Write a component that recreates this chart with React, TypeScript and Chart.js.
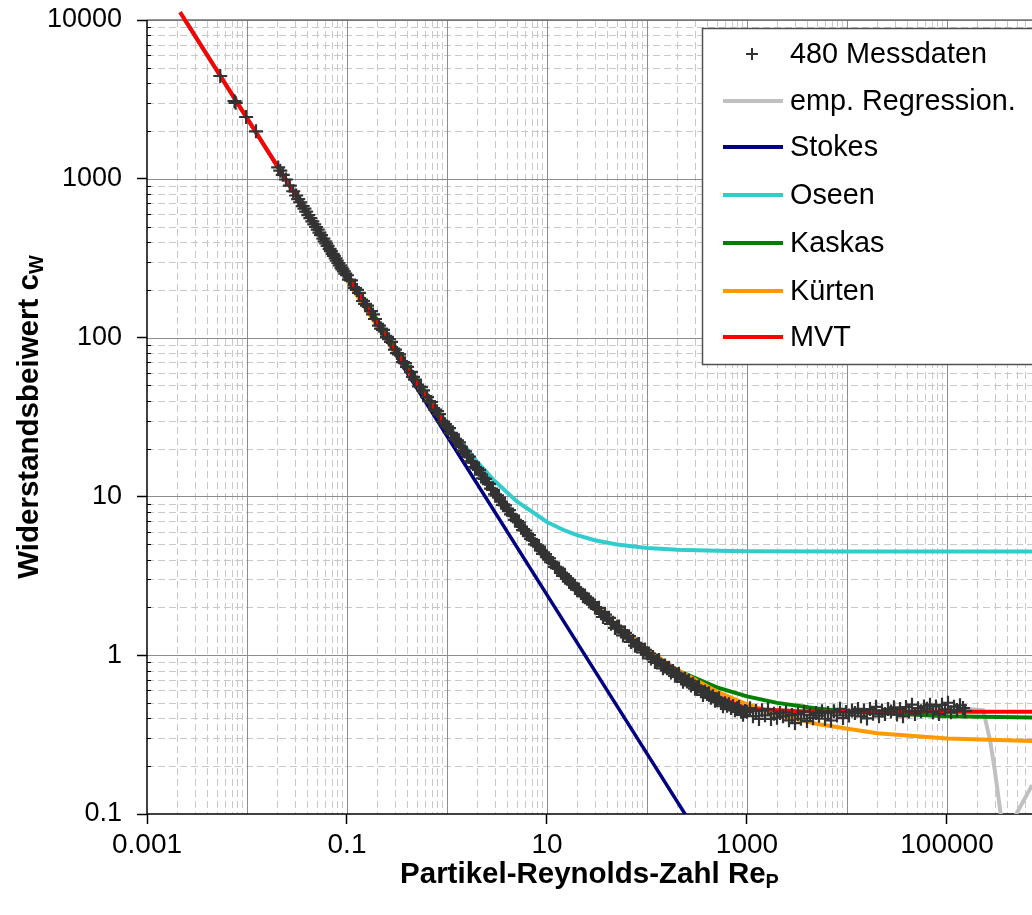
import React, { useEffect, useRef } from 'react';
import { Chart, registerables } from 'chart.js';

Chart.register(...registerables);

// ---------- data ----------
const MESS_RE = [
  0.0054, 0.0075, 0.0077, 0.0098, 0.0123, 0.0205, 0.0215, 0.0228, 0.0245, 0.0268,
  0.029, 0.031, 0.0325, 0.034, 0.036, 0.0375, 0.039, 0.041, 0.043, 0.045,
  0.047, 0.049, 0.051, 0.053, 0.055, 0.058, 0.06, 0.062, 0.064, 0.067,
  0.069, 0.072, 0.074, 0.077, 0.079, 0.082, 0.085, 0.088, 0.09, 0.093, 0.096,
  0.1, 0.1047, 0.1096, 0.1202, 0.1259, 0.1318, 0.1445, 0.1514, 0.1585, 0.1738,
  0.182, 0.1905, 0.2089, 0.2188, 0.2291, 0.2512, 0.263, 0.2754, 0.302, 0.3162,
  0.3311, 0.3631, 0.3802, 0.3981, 0.4365, 0.4571, 0.4786, 0.5248, 0.5495, 0.5754,
  0.631, 0.6607, 0.6918, 0.7586, 0.7943, 0.8318, 0.912, 0.955,
  1.0, 1.047, 1.096, 1.148, 1.202, 1.259, 1.318, 1.38, 1.445, 1.514,
  1.585, 1.66, 1.738, 1.82, 1.905, 1.995, 2.089, 2.188, 2.291, 2.399,
  2.512, 2.63, 2.754, 2.884, 3.02, 3.162, 3.311, 3.467, 3.631, 3.802,
  3.981, 4.169, 4.365, 4.571, 4.786, 5.012, 5.248, 5.495, 5.754, 6.026,
  6.31, 6.607, 6.918, 7.244, 7.586, 7.943, 8.318, 8.71, 9.12, 9.55,
  10.0, 10.47, 10.96, 11.48, 12.02, 12.59, 13.18, 13.8, 14.45, 15.14,
  15.85, 16.6, 17.38, 18.2, 19.05, 19.95, 20.89, 21.88, 22.91, 23.99,
  25.12, 26.3, 27.54, 28.84, 30.2, 31.62, 33.11, 34.67, 36.31, 38.02,
  39.81, 41.69, 43.65, 45.71, 47.86, 50.12, 52.48, 54.95, 57.54, 60.26,
  63.1, 66.07, 69.18, 72.44, 75.86, 79.43, 83.18, 87.1, 91.2, 95.5,
  100.0, 104.7, 109.6, 114.8, 120.2, 125.9, 131.8, 138.0, 144.5, 151.4,
  158.5, 166.0, 173.8, 182.0, 190.5, 199.5, 208.9, 218.8, 229.1, 239.9,
  251.2, 263.0, 275.4, 288.4, 302.0, 316.2, 331.1, 346.7, 363.1, 380.2,
  398.1, 416.9, 436.5, 457.1, 478.6, 501.2, 524.8, 549.5, 575.4, 602.6,
  631.0, 660.7, 691.8, 724.4, 758.6, 794.3, 831.8, 871.0, 912.0, 955.0,
  1000, 1072, 1148, 1230, 1318, 1413, 1514, 1622, 1738, 1862,
  1995, 2138, 2291, 2455, 2630, 2818, 3020, 3236, 3467, 3715,
  3981, 4266, 4571, 4898, 5248, 5623, 6026, 6457, 6918, 7413,
  7943, 8511, 9120, 9772, 10470, 11220, 12020, 12880, 13800, 14790,
  15850, 16980, 18200, 19500, 20890, 22390, 23990, 25700, 27540, 29510,
  31620, 33880, 36310, 38900, 41690, 44670, 47860, 51290, 54950, 58880,
  63100, 67610, 72440, 77620, 83180, 89130, 95500, 102300, 109600, 117500,
  125900, 134900, 144500, 151400,
];
const MESS_CW = [
  4440, 3080, 3010, 2450, 1990, 1180, 1125, 1060, 990, 905,
  835, 785, 745, 712, 672, 648, 622, 590, 566, 540,
  517, 497, 478, 458, 442, 420, 404, 392, 378, 362,
  350, 337, 327, 315, 305, 295, 285, 276, 269, 261, 253,
  247, 232, 229, 205, 199.5, 191, 170, 163, 159, 147,
  140, 131, 119, 114, 112, 101, 97.7, 94.0, 84.0, 79.9,
  78.4, 70.0, 69.0, 65.4, 60.9, 56.5, 54.4, 49.2, 48.8, 46.5,
  42.2, 39.8, 39.3, 35.2, 34.4, 33.0, 29.6, 28.5,
  27.6, 26.9, 25.1, 24.6, 23.0, 22.5, 21.9, 20.5, 19.4, 19.2,
  18.3, 17.8, 16.6, 16.3, 15.3, 15.0, 14.7, 13.7, 13.0, 12.9,
  12.25, 12.0, 11.2, 11.0, 10.3, 10.15, 9.83, 9.27, 8.84, 8.78,
  8.37, 8.19, 7.70, 7.56, 7.11, 6.99, 6.85, 6.46, 6.13, 6.10,
  5.83, 5.71, 5.39, 5.30, 4.99, 4.92, 4.83, 4.57, 4.35, 4.33,
  4.15, 4.08, 3.85, 3.81, 3.60, 3.56, 3.50, 3.30, 3.16, 3.15,
  3.03, 2.98, 2.82, 2.80, 2.65, 2.62, 2.59, 2.46, 2.35, 2.35,
  2.27, 2.24, 2.13, 2.11, 2.00, 1.98, 1.99, 1.84, 1.74, 1.80,
  1.72, 1.72, 1.575, 1.60, 1.485, 1.51, 1.516, 1.409, 1.333, 1.383,
  1.323, 1.318, 1.213, 1.235, 1.148, 1.169, 1.178, 1.097, 1.041, 1.082,
  1.027, 1.025, 0.955, 0.973, 0.906, 0.923, 0.932, 0.870, 0.827, 0.860,
  0.827, 0.835, 0.779, 0.795, 0.742, 0.757, 0.765, 0.714, 0.680, 0.710,
  0.683, 0.691, 0.645, 0.659, 0.615, 0.629, 0.636, 0.592, 0.562, 0.589,
  0.570, 0.577, 0.540, 0.552, 0.516, 0.528, 0.535, 0.500, 0.477, 0.498,
  0.480, 0.491, 0.465, 0.478, 0.450, 0.463, 0.471, 0.441, 0.421, 0.445,
  0.440, 0.463, 0.413, 0.446, 0.397, 0.450, 0.418, 0.458, 0.397, 0.428,
  0.404, 0.432, 0.413, 0.435, 0.389, 0.420, 0.374, 0.425, 0.398, 0.441,
  0.385, 0.420, 0.401, 0.432, 0.416, 0.443, 0.398, 0.433, 0.388, 0.444,
  0.417, 0.460, 0.402, 0.439, 0.417, 0.448, 0.432, 0.459, 0.412, 0.448,
  0.400, 0.458, 0.428, 0.473, 0.412, 0.448, 0.427, 0.458, 0.442, 0.470,
  0.423, 0.459, 0.412, 0.472, 0.442, 0.488, 0.427, 0.464, 0.443, 0.476,
  0.460, 0.488, 0.438, 0.476, 0.426, 0.487, 0.456, 0.502, 0.437, 0.474,
  0.451, 0.484, 0.465, 0.446,
];

const REG_RE = [0.002, 0.01, 0.1, 1, 10, 100, 1000, 3000, 10000, 30000, 100000, 160000, 230000, 270000, 300000, 340000, 370000, 710000, 1000000];
const REG_CW = [12000, 2420, 246, 27, 4.1, 1.0, 0.44, 0.42, 0.43, 0.44, 0.455, 0.46, 0.45, 0.29, 0.19, 0.106, 0.072, 0.152, 0.23];

const STOKES_RE = [0.002, 0.01, 0.1, 1, 10, 30, 100, 300];
const STOKES_CW = [12000, 2400, 240, 24, 2.4, 0.8, 0.24, 0.08];

const OSEEN_RE = [0.002, 0.01, 0.1, 1, 2, 3, 5, 10, 15, 20, 30, 50, 100, 200, 500, 1000, 10000, 100000, 1000000];
const OSEEN_CW = [12004.5, 2404.5, 244.5, 28.5, 16.5, 12.5, 9.3, 6.9, 6.1, 5.7, 5.3, 4.98, 4.74, 4.62, 4.55, 4.52, 4.5, 4.5, 4.5];

const KASKAS_RE = [0.1, 0.2, 0.5, 1, 2, 5, 10, 20, 50, 100, 200, 500, 1000, 2000, 5000, 10000, 100000, 1000000];
const KASKAS_CW = [253.0, 129.3, 54.1, 28.4, 15.23, 6.99, 4.06, 2.49, 1.446, 1.04, 0.803, 0.627, 0.55, 0.501, 0.461, 0.442, 0.413, 0.404];

const KUERTEN_RE = [0.1, 0.2, 0.5, 1, 2, 5, 10, 20, 50, 100, 200, 500, 1000, 2000, 5000, 20000, 100000, 1000000];
const KUERTEN_CW = [229.3, 118.7, 50.8, 27.28, 15.02, 7.16, 4.28, 2.67, 1.549, 1.09, 0.809, 0.59, 0.491, 0.425, 0.369, 0.323, 0.299, 0.286];

const MVT_RE = [0.00214, 0.005, 0.01, 0.03, 0.1, 0.3, 1, 3, 10, 30, 100, 300, 1000, 3000, 10000, 100000, 1000000];
const MVT_CW = [11220, 4810, 2410, 806, 244, 82.5, 27.2, 10.2, 4.12, 1.97, 1.02, 0.63, 0.46, 0.445, 0.44, 0.44, 0.44];

const X_TICKS = [0.001, 0.1, 10, 1000, 100000];
const Y_TICKS = [0.1, 1, 10, 100, 1000, 10000];
const X_MIN = 0.001;
const X_MAX = 708000;
const Y_MIN = 0.1;
const Y_MAX = 10000;

const SERIES_NAMES = ['480 Messdaten', 'emp. Regression.', 'Stokes', 'Oseen', 'Kaskas', 'Kürten', 'MVT'];
const SERIES_COLORS = ['#333333', '#C0C0C0', '#000080', '#33CCCC', '#008000', '#FF9900', '#FF0000'];

const X_TITLE = 'Partikel-Reynolds-Zahl Re';
const X_TITLE_SUB = 'P';
const Y_TITLE = 'Widerstandsbeiwert c';
const Y_TITLE_SUB = 'W';

const FONT = "'Liberation Sans', Arial, sans-serif";

const pts = (xs: number[], ys: number[]) => xs.map((x, i) => ({ x, y: ys[i] }));

const gridPlugin = {
  id: 'excelGrid',
  beforeDatasetsDraw(chart: any) {
    const { ctx, chartArea: a, scales } = chart;
    const xs = scales.x;
    const ys = scales.y;
    ctx.save();
    ctx.beginPath();
    ctx.rect(a.left, a.top, a.right - a.left, a.bottom - a.top);
    ctx.clip();
    // minor dashed grid
    ctx.lineWidth = 1;
    ctx.strokeStyle = '#C8C8C8';
    ctx.setLineDash([7, 4]);
    for (let d = -3; d <= 6; d++) {
      for (let m = 2; m <= 9; m++) {
        const v = m * Math.pow(10, d);
        if (v > X_MIN && v < X_MAX) {
          const px = Math.round(xs.getPixelForValue(v)) + 0.5;
          ctx.beginPath(); ctx.moveTo(px, a.top); ctx.lineTo(px, a.bottom); ctx.stroke();
        }
      }
    }
    for (let d = -1; d <= 4; d++) {
      for (let m = 2; m <= 9; m++) {
        const v = m * Math.pow(10, d);
        if (v > Y_MIN && v < Y_MAX) {
          const py = Math.round(ys.getPixelForValue(v)) + 0.5;
          ctx.beginPath(); ctx.moveTo(a.left, py); ctx.lineTo(a.right, py); ctx.stroke();
        }
      }
    }
    // major solid grid
    ctx.setLineDash([]);
    ctx.strokeStyle = '#8C8C8C';
    for (let d = -3; d <= 6; d++) {
      const v = Math.pow(10, d);
      if (v > X_MIN && v < X_MAX) {
        const px = Math.round(xs.getPixelForValue(v)) + 0.5;
        ctx.beginPath(); ctx.moveTo(px, a.top); ctx.lineTo(px, a.bottom); ctx.stroke();
      }
    }
    for (let d = -1; d <= 4; d++) {
      const v = Math.pow(10, d);
      if (v > Y_MIN && v <= Y_MAX) {
        const py = Math.round(ys.getPixelForValue(v)) + 0.5;
        ctx.beginPath(); ctx.moveTo(a.left, py); ctx.lineTo(a.right, py); ctx.stroke();
      }
    }
    ctx.restore();
    ctx.save();
    // top border
    ctx.strokeStyle = '#707070';
    ctx.lineWidth = 1.5;
    ctx.beginPath(); ctx.moveTo(a.left, a.top); ctx.lineTo(a.right, a.top); ctx.stroke();
    // axis lines
    ctx.strokeStyle = '#000000';
    ctx.lineWidth = 1.5;
    ctx.beginPath(); ctx.moveTo(a.left, a.top); ctx.lineTo(a.left, a.bottom + 0.5); ctx.stroke();
    ctx.beginPath(); ctx.moveTo(a.left - 0.5, a.bottom); ctx.lineTo(a.right, a.bottom); ctx.stroke();
    // minor inner ticks on y-axis
    ctx.lineWidth = 1;
    for (let d = -1; d <= 4; d++) {
      for (let m = 2; m <= 9; m++) {
        const v = m * Math.pow(10, d);
        if (v > Y_MIN && v < Y_MAX) {
          const py = Math.round(ys.getPixelForValue(v)) + 0.5;
          ctx.beginPath(); ctx.moveTo(a.left, py); ctx.lineTo(a.left + 4, py); ctx.stroke();
        }
      }
    }
    ctx.restore();
  },
};

const decorPlugin = {
  id: 'excelDecor',
  afterDatasetsDraw(chart: any) {
    const { ctx } = chart;
    ctx.save();
    // legend box
    const bx = 702.5, by = 28.5, bw = 340, bh = 336;
    ctx.fillStyle = '#FFFFFF';
    ctx.fillRect(bx, by, bw, bh);
    ctx.strokeStyle = '#505050';
    ctx.lineWidth = 1.5;
    ctx.strokeRect(bx, by, bw, bh);
    const rows = [54, 101, 147, 195, 243, 291, 337];
    ctx.font = `28.8px ${FONT}`;
    ctx.textBaseline = 'middle';
    ctx.textAlign = 'left';
    SERIES_NAMES.forEach((name, i) => {
      const cy = rows[i];
      if (i === 0) {
        ctx.strokeStyle = SERIES_COLORS[0];
        ctx.lineWidth = 2;
        ctx.beginPath();
        ctx.moveTo(746, cy); ctx.lineTo(758, cy);
        ctx.moveTo(752, cy - 6); ctx.lineTo(752, cy + 6);
        ctx.stroke();
      } else {
        ctx.strokeStyle = SERIES_COLORS[i];
        ctx.lineWidth = 4;
        ctx.beginPath();
        ctx.moveTo(723, cy); ctx.lineTo(783, cy);
        ctx.stroke();
      }
      ctx.fillStyle = '#000000';
      ctx.fillText(name, 790, cy + 1);
    });
    ctx.restore();
  },
  afterDraw(chart: any) {
    const { ctx, chartArea: a } = chart;
    ctx.save();
    ctx.fillStyle = '#000000';
    ctx.textBaseline = 'alphabetic';
    ctx.textAlign = 'left';
    const mainFont = `bold 29.5px ${FONT}`;
    const subFont = `bold 20px ${FONT}`;
    // x title
    ctx.font = mainFont;
    const w1 = ctx.measureText(X_TITLE).width;
    ctx.font = subFont;
    const w2 = ctx.measureText(X_TITLE_SUB).width;
    const cx = (a.left + a.right) / 2;
    const sx = cx - (w1 + w2) / 2;
    const base = 883;
    ctx.font = mainFont;
    ctx.fillText(X_TITLE, sx, base);
    ctx.font = subFont;
    ctx.fillText(X_TITLE_SUB, sx + w1, base + 5);
    // y title
    ctx.font = mainFont;
    const v1 = ctx.measureText(Y_TITLE).width;
    ctx.font = subFont;
    const v2 = ctx.measureText(Y_TITLE_SUB).width;
    const cy = (a.top + a.bottom) / 2;
    ctx.translate(38, cy);
    ctx.rotate(-Math.PI / 2);
    const sy = -(v1 + v2) / 2;
    ctx.font = mainFont;
    ctx.fillText(Y_TITLE, sy, 0);
    ctx.font = subFont;
    ctx.fillText(Y_TITLE_SUB, sy + v1, 5);
    ctx.restore();
  },
};

function App() {
  const canvasRef = useRef<HTMLCanvasElement | null>(null);

  useEffect(() => {
    const canvas = canvasRef.current;
    if (!canvas) return;
    const line = (label: string, xs: number[], ys: number[], color: string, width: number, order: number) => ({
      label,
      data: pts(xs, ys),
      showLine: true,
      borderColor: color,
      backgroundColor: color,
      borderWidth: width,
      pointRadius: 0,
      pointHoverRadius: 0,
      tension: 0,
      order,
    });
    const mvt: any = line(SERIES_NAMES[6], MVT_RE, MVT_CW, SERIES_COLORS[6], 4, 1);
    mvt.clip = false;
    const chart = new Chart(canvas, {
      type: 'scatter',
      data: {
        datasets: [
          {
            label: SERIES_NAMES[0],
            data: pts(MESS_RE, MESS_CW),
            showLine: false,
            pointStyle: 'cross',
            pointRadius: 7,
            pointBorderWidth: 2.2,
            pointBorderColor: SERIES_COLORS[0],
            pointBackgroundColor: SERIES_COLORS[0],
            order: 0,
          } as any,
          mvt,
          line(SERIES_NAMES[5], KUERTEN_RE, KUERTEN_CW, SERIES_COLORS[5], 4, 2),
          line(SERIES_NAMES[4], KASKAS_RE, KASKAS_CW, SERIES_COLORS[4], 4, 3),
          line(SERIES_NAMES[3], OSEEN_RE, OSEEN_CW, SERIES_COLORS[3], 4, 4),
          line(SERIES_NAMES[2], STOKES_RE, STOKES_CW, SERIES_COLORS[2], 3.5, 5),
          line(SERIES_NAMES[1], REG_RE, REG_CW, SERIES_COLORS[1], 4, 6),
        ],
      },
      options: {
        animation: false,
        responsive: false,
        devicePixelRatio: 1,
        layout: { autoPadding: false, padding: { top: 20, right: 0, left: 0, bottom: 0 } },
        plugins: { legend: { display: false }, tooltip: { enabled: false } },
        events: [],
        scales: {
          x: {
            type: 'logarithmic',
            position: 'bottom',
            min: X_MIN,
            max: X_MAX,
            afterBuildTicks: (s: any) => { s.ticks = X_TICKS.map((v) => ({ value: v })); },
            afterFit: (s: any) => { s.height = 101; s.paddingLeft = 0; s.paddingRight = 0; s.paddingTop = 0; s.paddingBottom = 0; },
            ticks: {
              autoSkip: false,
              maxRotation: 0,
              padding: 4,
              color: '#000000',
              font: { family: FONT, size: 28 },
              callback: (v: any) => String(v),
            },
            grid: { drawOnChartArea: false, drawTicks: true, tickLength: 10, tickColor: '#000000', tickWidth: 1.5 },
            border: { display: false },
          },
          y: {
            type: 'logarithmic',
            position: 'left',
            min: Y_MIN,
            max: Y_MAX,
            afterBuildTicks: (s: any) => { s.ticks = Y_TICKS.map((v) => ({ value: v })); },
            afterFit: (s: any) => { s.width = 147; s.paddingTop = 0; s.paddingBottom = 0; s.paddingLeft = 0; s.paddingRight = 0; },
            ticks: {
              autoSkip: false,
              padding: 15,
              color: '#000000',
              font: { family: FONT, size: 27 },
              callback: (v: any) => String(v),
            },
            grid: { drawOnChartArea: false, drawTicks: true, tickLength: 10, tickColor: '#000000', tickWidth: 1.5 },
            border: { display: false },
          },
        },
      } as any,
      plugins: [gridPlugin, decorPlugin],
    });
    return () => chart.destroy();
  }, []);

  return (
    <canvas
      ref={canvasRef}
      width={1032}
      height={915}
      style={{ position: 'fixed', left: 0, top: 0, width: 1032, height: 915, display: 'block' }}
    />
  );
}

export default App;
